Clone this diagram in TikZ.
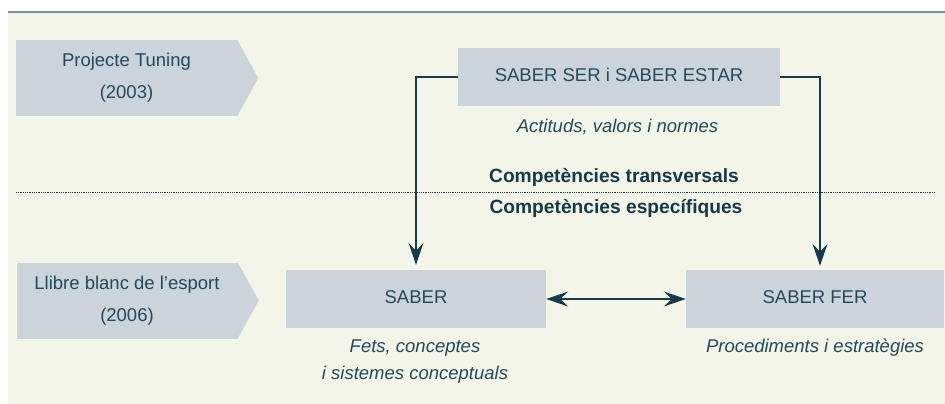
\documentclass[tikz,border=0pt]{standalone}
\usepackage{fontspec}
\setmainfont{Liberation Sans}
\usetikzlibrary{arrows.meta}
\definecolor{fonsverd}{HTML}{F2F5E8}
\definecolor{caixa}{HTML}{CBD4DB}
\definecolor{textblau}{HTML}{24495A}
\definecolor{fosc}{HTML}{17394A}
\definecolor{ratlla}{HTML}{7D909C}
\tikzset{
    era/.style={rectangle, fill=caixa, text=textblau, minimum width=221pt, minimum height=76pt, inner sep=0pt, align=center, font=\fontsize{18.5}{32}\selectfont},
    saber/.style={rectangle, fill=caixa, text=textblau, minimum height=58pt, inner sep=0pt, text height=13.3pt, text depth=4.6pt, font=\fontsize{18.5}{22}\selectfont},
    desc/.style={text=textblau, align=center, inner sep=0pt, font=\fontsize{18.5}{27}\selectfont\itshape},
    comp/.style={text=fosc, inner sep=0pt, anchor=base, font=\fontsize{19.2}{22}\selectfont\bfseries},
    fletxa/.style={draw=fosc, line width=1.3pt, ->}
}

\begin{document}
\begin{tikzpicture}[x=1pt, y=-1pt, >={Stealth[length=22pt,width=15pt,inset=8pt]}]

\useasboundingbox (0,0) rectangle (945,404);
% fons i ratlles
\fill[fonsverd] (8,12) rectangle (945,404);
\draw[ratlla, line width=1.5pt] (8,12) -- (945,12);
\draw[fosc, line width=0.7pt, dash pattern=on 0.7pt off 1.1pt] (16,192) -- (935,192);

% etiquetes de l'esquerra
\node [era] (tuning) at (126.5,78)  {Projecte Tuning\\(2003)};
\node [era] (llibre) at (127,300.5) {Llibre blanc de l’esport\\(2006)};
\foreach \e in {tuning, llibre}
    \fill[caixa] (\e.north east) -- ([xshift=21pt]\e.east) -- (\e.south east) -- cycle;

% sabers
\node [saber, minimum width=322pt] (ser)   at (619,77)  {SABER SER i SABER ESTAR};
\node [saber, minimum width=260pt] (saber) at (416,299) {SABER};
\node [saber, minimum width=258pt] (fer)   at (815,299) {SABER FER};

\node [desc, anchor=base] (actituds) at (617.5,132) {Actituds, valors i normes};
\node [desc]              (fets)     at (415,362)   {Fets, conceptes\\i sistemes conceptuals};
\node [desc, anchor=base] (proced)   at (815,352)   {Procediments i estratègies};

\node [comp] (transv)  at (614,182) {Competències transversals};
\node [comp] (especif) at (616,213) {Competències específiques};

\draw [fletxa, shorten >=5pt] (ser.west) -| (saber.north);
\draw [fletxa, shorten >=4pt] (ser.east) -| ([xshift=5pt]fer.north);
\draw [fletxa, <->] (saber) to (fer);

\end{tikzpicture}
\end{document}
